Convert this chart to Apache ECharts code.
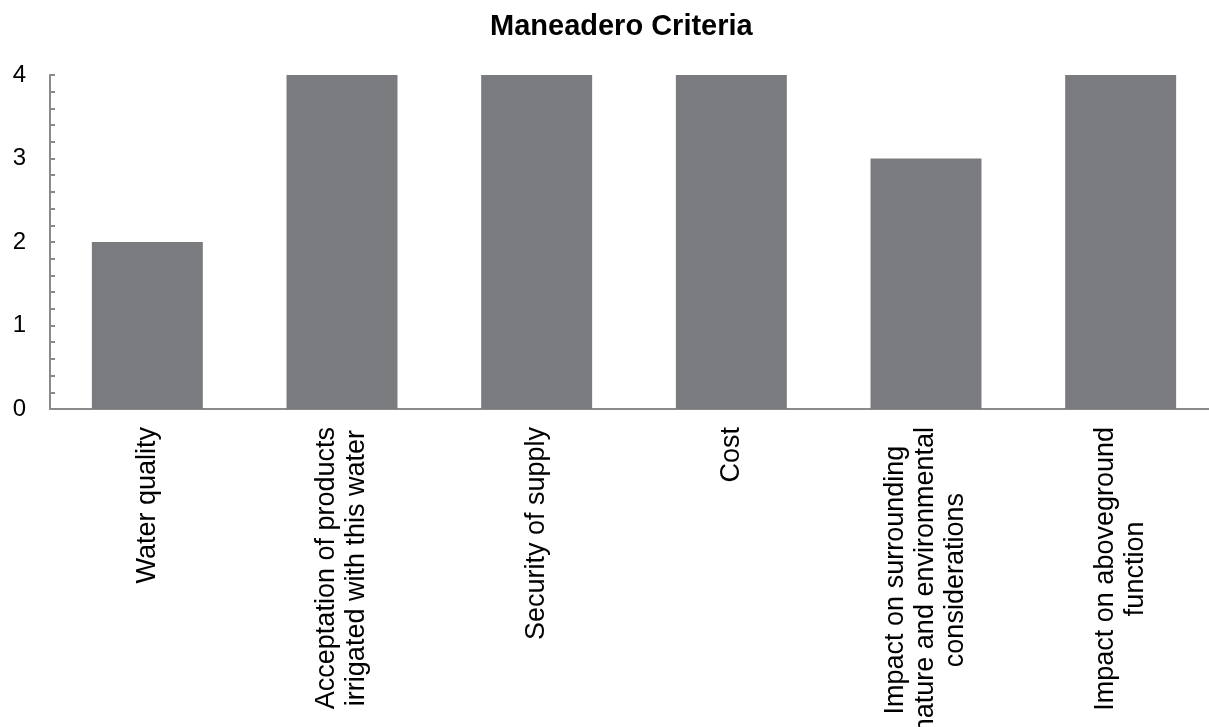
<!DOCTYPE html>
<html>
<head>
<meta charset="utf-8">
<title>Maneadero Criteria</title>
<script src="https://cdn.jsdelivr.net/npm/echarts@6/dist/echarts.min.js"></script>
<style>
  html, body { margin: 0; padding: 0; background: #fff; }
  #chart { width: 1209px; height: 727px; }
</style>
</head>
<body>
<div id="chart"></div>
<script>
var categories = [
  'Water quality',
  'Acceptation of products\nirrigated with this water',
  'Security of supply',
  'Cost',
  'Impact on surrounding\nnature and environmental\nconsiderations',
  'Impact on aboveground\nfunction'
];
var scores = [2, 4, 4, 4, 3, 4];

var font = '"Liberation Sans", Arial, sans-serif';
var axisGrey = '#8a8a8a';

var chart = echarts.init(document.getElementById('chart'));
chart.setOption({
  animation: false,
  backgroundColor: '#fff',
  title: {
    text: 'Maneadero Criteria',
    left: 485,
    top: 7,
    textStyle: { fontFamily: font, fontSize: 29, fontWeight: 'bold', color: '#000' }
  },
  grid: { left: 50, right: -9, top: 75, bottom: 318, outerBoundsMode: 'none' },
  xAxis: {
    type: 'category',
    data: categories,
    axisLine: { lineStyle: { color: axisGrey, width: 2 } },
    axisTick: { show: false },
    axisLabel: {
      interval: 0,
      rotate: 90,
      margin: 18,
      formatter: function (v) {
        // centre each line inside the rotated block
        return v.split('\n').map(function (s) { return '{c|' + s + '}'; }).join('\n');
      },
      rich: {
        c: { align: 'center', fontFamily: font, fontSize: 27, lineHeight: 30, color: '#000' }
      }
    }
  },
  yAxis: {
    type: 'value',
    min: 0,
    max: 4,
    interval: 1,
    splitLine: { show: false },
    axisLine: { show: true, lineStyle: { color: axisGrey, width: 2 } },
    axisTick: { show: true, inside: true, length: 5, lineStyle: { color: axisGrey, width: 2 } },
    minorTick: { show: true, splitNumber: 5, length: 5, lineStyle: { color: axisGrey, width: 2 } },
    axisLabel: { margin: 24, fontFamily: font, fontSize: 24, color: '#000' }
  },
  series: [{
    type: 'bar',
    data: scores,
    barWidth: '57%',
    itemStyle: { color: '#7a7b7f' }
  }]
});
</script>
</body>
</html>
